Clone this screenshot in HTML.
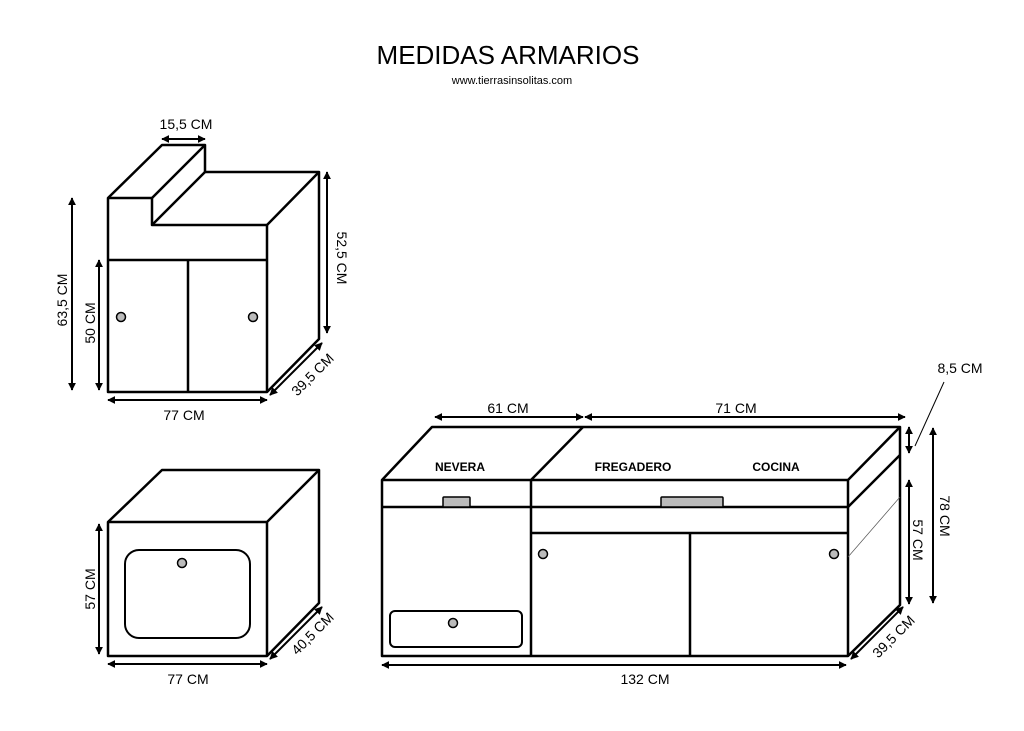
<!DOCTYPE html>
<html><head><style>
html,body{margin:0;padding:0;background:#fff;width:1024px;height:731px;overflow:hidden}
svg{display:block}
text{font-family:"Liberation Sans",Arial,sans-serif;fill:#000}
</style></head><body>
<svg width="1024" height="731" viewBox="0 0 1024 731">
<defs>
<marker id="a" viewBox="0 0 10 10" refX="9" refY="5" markerWidth="8" markerHeight="8" orient="auto-start-reverse" markerUnits="userSpaceOnUse"><path d="M0,0 L10,5 L0,10 z" fill="#000"/></marker>
</defs>
<text x="508" y="64" font-size="26" text-anchor="middle">MEDIDAS ARMARIOS</text>
<text x="512" y="84" font-size="11" text-anchor="middle" fill="#333">www.tierrasinsolitas.com</text>

<g fill="none" stroke="#000" stroke-width="2.5" stroke-linejoin="round">
<path d="M108,198 L162,145 L205,145 L205,172 L319,172 L319,339 L267,392 L108,392 Z" fill="#fff"/>
<path d="M108,198 L152,198 L152,225 L267,225 L267,392"/>
<path d="M152,198 L205,145 M152,225 L205,172 M267,225 L319,172"/>
<path d="M108,260 L267,260 M188,260 L188,392"/>
<path d="M108,522 L162,470 L319,470 L319,603 L267,656 L108,656 Z" fill="#fff"/>
<path d="M108,522 L267,522 L267,656 M267,522 L319,470"/>
<rect x="125" y="550" width="125" height="88" rx="14" stroke-width="2"/>
<path d="M382,480 L432,427 L900,427 L900,605 L848,656 L382,656 Z" fill="#fff"/>
<path d="M382,480 L848,480 L848,656 M848,480 L900,427 M531,480 L583,427"/>
<path d="M382,507 L848,507 L900,455 M531,480 L531,656 M531,533 L848,533 M690,533 L690,656"/>
<rect x="390" y="611" width="132" height="36" rx="5" stroke-width="2"/>
</g>
<path d="M848,557 L900,497" stroke="#555" stroke-width="0.7" fill="none"/>
<g fill="#bbb" stroke="#000" stroke-width="1.5">
<circle cx="121" cy="317" r="4.5"/><circle cx="253" cy="317" r="4.5"/>
<circle cx="182" cy="563" r="4.5"/>
<circle cx="543" cy="554" r="4.5"/><circle cx="834" cy="554" r="4.5"/>
<circle cx="453" cy="623" r="4.5"/>
<rect x="443" y="497" width="27" height="10" rx="1"/>
<rect x="661" y="497" width="62" height="10" rx="1"/>
</g>
<g font-size="12" font-weight="bold" text-anchor="middle">
<text x="460" y="471">NEVERA</text><text x="633" y="471">FREGADERO</text><text x="776" y="471">COCINA</text>
</g>

<g stroke="#000" stroke-width="2" marker-start="url(#a)" marker-end="url(#a)">
<line x1="162" y1="139" x2="205" y2="139"/>
<line x1="72" y1="198" x2="72" y2="390"/>
<line x1="99" y1="260" x2="99" y2="390"/>
<line x1="327" y1="172" x2="327" y2="333"/>
<line x1="108" y1="400" x2="267" y2="400"/>
<line x1="270" y1="395" x2="322" y2="343"/>
<line x1="99" y1="524" x2="99" y2="654"/>
<line x1="108" y1="664" x2="267" y2="664"/>
<line x1="270" y1="659" x2="322" y2="607"/>
<line x1="435" y1="417" x2="583" y2="417"/>
<line x1="585" y1="417" x2="905" y2="417"/>
<line x1="382" y1="665" x2="846" y2="665"/>
<line x1="851" y1="659" x2="903" y2="607"/>
<line x1="933" y1="428" x2="933" y2="603"/>
<line x1="909" y1="480" x2="909" y2="604"/>
<line x1="909" y1="427" x2="909" y2="453"/>
</g>
<line x1="915" y1="446" x2="944" y2="382" stroke="#000" stroke-width="1"/>
<g font-size="14">
<text x="186" y="129" text-anchor="middle">15,5 CM</text>
<text x="184" y="420" text-anchor="middle">77 CM</text>
<text x="188" y="684" text-anchor="middle">77 CM</text>
<text x="508" y="413" text-anchor="middle">61 CM</text>
<text x="736" y="413" text-anchor="middle">71 CM</text>
<text x="645" y="684" text-anchor="middle">132 CM</text>
<text x="960" y="373" text-anchor="middle">8,5 CM</text>
<text transform="translate(67,300) rotate(-90)" text-anchor="middle">63,5 CM</text>
<text transform="translate(95,323) rotate(-90)" text-anchor="middle">50 CM</text>
<text transform="translate(95,589) rotate(-90)" text-anchor="middle">57 CM</text>
<text transform="translate(337,258) rotate(90)" text-anchor="middle">52,5 CM</text>
<text transform="translate(940,516) rotate(90)" text-anchor="middle">78 CM</text>
<text transform="translate(913,540) rotate(90)" text-anchor="middle">57 CM</text>
<text transform="translate(316,378) rotate(-45)" text-anchor="middle">39,5 CM</text>
<text transform="translate(316,637) rotate(-45)" text-anchor="middle">40,5 CM</text>
<text transform="translate(897,640) rotate(-45)" text-anchor="middle">39,5 CM</text>
</g>
</svg>
</body></html>
